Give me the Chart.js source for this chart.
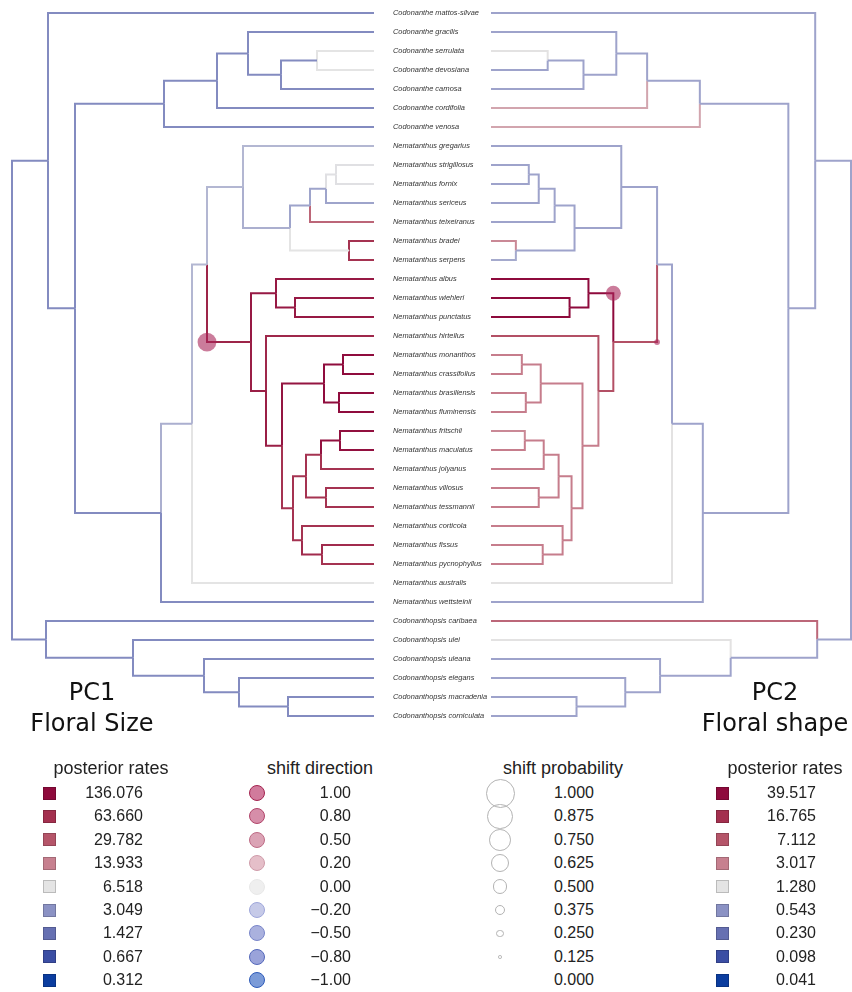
<!DOCTYPE html>
<html>
<head>
<meta charset="utf-8">
<script src="https://cdn.jsdelivr.net/npm/chart.js@4.4.1/dist/chart.umd.min.js"></script>
<style>
  body { margin: 0; background: #fff; }
  #wrap { position: relative; width: 852px; height: 992px; overflow: hidden;
          font-family: 'Liberation Sans', Arial, sans-serif; color: #222; }
  canvas { position: absolute; top: 0; }
  #treeL { left: 0; }
  #treeR { left: 480px; }
  .pc { position: absolute; font-family: 'DejaVu Sans', sans-serif; font-size: 24px;
        line-height: 31px; text-align: center; color: #111; }
  .lg-title { position: absolute; font-size: 18px; line-height: 20px; white-space: nowrap;
              transform: translateX(-50%); }
  .lg-val { position: absolute; width: 90px; font-size: 16px; line-height: 18px;
            text-align: right; white-space: nowrap; }
  .sw { position: absolute; box-sizing: border-box; }
</style>
</head>
<body>
<div id="wrap">
  <canvas id="treeL" width="490" height="730"></canvas>
  <canvas id="treeR" width="372" height="730"></canvas>
  <div class="pc" style="left:0;top:677px;width:184px">PC1<br>Floral Size</div>
  <div class="pc" style="left:675px;top:677px;width:200px">PC2<br>Floral shape</div>
  <div id="legend"></div>
</div>
<script>
// tips, top to bottom
const taxa = [
  'Codonanthe mattos-silvae', 'Codonanthe gracilis', 'Codonanthe serrulata', 'Codonanthe devosiana',
  'Codonanthe carnosa', 'Codonanthe cordifolia', 'Codonanthe venosa',
  'Nematanthus gregarius', 'Nematanthus strigillosus', 'Nematanthus fornix', 'Nematanthus sericeus',
  'Nematanthus teixeiranus', 'Nematanthus bradei', 'Nematanthus serpens', 'Nematanthus albus',
  'Nematanthus wiehleri', 'Nematanthus punctatus', 'Nematanthus hirtellus', 'Nematanthus monanthos',
  'Nematanthus crassifolius', 'Nematanthus brasiliensis', 'Nematanthus fluminensis', 'Nematanthus fritschii',
  'Nematanthus maculatus', 'Nematanthus jolyanus', 'Nematanthus villosus', 'Nematanthus tessmannii',
  'Nematanthus corticola', 'Nematanthus fissus', 'Nematanthus pycnophyllus', 'Nematanthus australis',
  'Nematanthus wettsteinii', 'Codonanthopsis caribaea', 'Codonanthopsis ulei', 'Codonanthopsis uleana',
  'Codonanthopsis elegans', 'Codonanthopsis macradenia', 'Codonanthopsis corniculata'
];

// internal nodes: children (number = tip index, string = node) and node age
const nodeNames = ['root', 'n1', 'n2', 'n3', 'n4', 'n5', 'n6', 'n7', 'n8', 'n9', 'n10', 'n11', 'n12',
  'n13', 'n14', 'n15', 'n16', 'n17', 'n18', 'nW', 'n19', 'nA', 'nB', 'nC', 'nD', 'nE', 'nF', 'nG',
  'nG2', 'nH', 'nI', 'nJ', 'nK', 'nL', 'nM', 'nN', 'nO'];
const nodeKids = [
  ['n1', 'nK'], [0, 'n2'], ['n3', 'n8'], ['n4', 6], ['n5', 5], [1, 'n6'], ['n7', 4], [2, 3],
  ['n9', 31], ['n10', 30], ['n11', 'n17'], [7, 'n12'], ['n13', 'n16'], ['n14', 11], ['n15', 10],
  [8, 9], [12, 13], ['n18', 'n19'], [14, 'nW'], [15, 16], [17, 'nA'], ['nB', 'nE'], ['nC', 'nD'],
  [18, 19], [20, 21], ['nF', 'nI'], ['nG', 'nH'], ['nG2', 24], [22, 23], [25, 26], [27, 'nJ'],
  [28, 29], [32, 'nL'], [33, 'nM'], [34, 'nN'], [35, 'nO'], [36, 37]
];
const nodeAge = [36.2, 32.6, 29.9, 21.0, 15.7, 12.6, 9.3, 5.7, 21.3, 18.2, 16.7, 13.1, 8.4,
  6.4, 4.8, 3.8, 2.5, 12.3, 9.8, 7.9, 10.8, 9.2, 5.0, 3.1, 3.5, 8.1, 6.8, 5.3,
  3.4, 4.8, 7.2, 5.2, 32.8, 24.1, 17.0, 13.5, 8.6];

// posterior rates of the branch leading to each tip / node
const tipRatePC1 = [2.6, 2.6, 6.5, 6.5, 2.6, 2.6, 2.6, 4.3, 6.3, 6.3, 3.6, 22, 60, 60,
  100, 100, 100, 75, 130, 130, 130, 130, 120, 120, 60, 60, 60, 60, 70, 60,
  6.5, 2.6, 2.6, 2.6, 2.6, 2.6, 2.6, 2.6];
const nodeRatePC1 = [null, 2.6, 2.6, 2.6, 2.6, 2.6, 2.6, 2.6, 2.6, 4.0, 4.3, 4.3, 4.0,
  3.6, 3.6, 6.3, 6.5, 80, 100, 100, 90, 90, 110, 130, 130, 60, 60, 60,
  120, 60, 60, 70, 2.6, 2.6, 2.6, 2.6, 2.6];
const tipRatePC2 = [0.65, 0.65, 1.3, 0.65, 0.65, 2.2, 2.2, 0.65, 0.65, 0.65, 0.65, 0.65, 2.8, 0.7,
  39.5, 39.5, 39.5, 8, 3.2, 3.2, 3.2, 3.2, 2.8, 3.2, 3.2, 3.2, 3.2, 3.2, 3.2, 3.2,
  1.3, 0.65, 5, 1.3, 0.65, 0.65, 0.65, 0.65];
const nodeRatePC2 = [null, 0.65, 0.65, 0.65, 0.65, 0.65, 0.65, 0.65, 0.65, 0.65, 0.65, 0.65, 0.65,
  0.65, 0.65, 0.65, 0.65, 8, 39.5, 39.5, 8, 3.2, 3.2, 3.2, 3.2, 3.2, 3.2, 3.2,
  3.2, 3.2, 3.2, 3.2, 0.65, 0.65, 0.65, 0.65, 0.65];

// legend scales
const rateStopsPC1 = [136.076, 63.660, 29.782, 13.933, 6.518, 3.049, 1.427, 0.667, 0.312];
const rateStopsPC2 = [39.517, 16.765, 7.112, 3.017, 1.280, 0.543, 0.230, 0.098, 0.041];
const rateColors = ['#8e0a3c', '#a4304f', '#b55569', '#c7808f', '#e4e4e4', '#8b92c4', '#6670b2', '#3b4ea4', '#0b3d9f'];
const dirLabels = ['1.00', '0.80', '0.50', '0.20', '0.00', '\u22120.20', '\u22120.50', '\u22120.80', '\u22121.00'];
const dirFill = ['#d17b9c', '#d68ea9', '#dba3b5', '#e5bfc9', '#efefef', '#c6cae8', '#aab1de', '#9aa3da', '#7b9bd8'];
const dirStroke = ['#a3234f', '#b04469', '#bd6a84', '#cf9ba9', '#e8e8e8', '#9ea6da', '#7985c9', '#5468ba', '#2d5ab8'];
const probValues = [1.000, 0.875, 0.750, 0.625, 0.500, 0.375, 0.250, 0.125, 0.000];

// rate shifts on branches (branch named by the node it leads to)
const shiftNodePC1 = ['n17'];
const shiftProbPC1 = [0.65];
const shiftDirPC1 = [1.0];
const shiftNodePC2 = ['n18', 'n17'];
const shiftProbPC2 = [0.52, 0.2];
const shiftDirPC2 = [1.0, 1.0];

// ---- tree geometry ----
const key = ref => typeof ref === 'number' ? 't' + ref : ref;
const nodeIndex = {};
nodeNames.forEach((n, i) => nodeIndex[n] = i);
const parentOf = {};
nodeKids.forEach((kids, i) => kids.forEach(k => parentOf[key(k)] = nodeNames[i]));
const yOf = {}, ageOf = {};
taxa.forEach((_, i) => { yOf['t' + i] = i; ageOf['t' + i] = 0; });
nodeNames.forEach((n, i) => ageOf[n] = nodeAge[i]);
function nodeY(n) {
  if (yOf[n] !== undefined) return yOf[n];
  const kids = nodeKids[nodeIndex[n]].map(key);
  yOf[n] = kids.reduce((s, k) => s + nodeY(k), 0) / kids.length;
  return yOf[n];
}
nodeY('root');

function hexRgb(h) {
  const v = parseInt(h.slice(1), 16);
  return [(v >> 16) & 255, (v >> 8) & 255, v & 255];
}
function rateColor(rate, stops) {
  const cols = rateColors.map(hexRgb);
  let c = cols[cols.length - 1];
  if (rate >= stops[0]) c = cols[0];
  for (let i = 0; i < stops.length - 1; i++) {
    if (rate <= stops[i] && rate >= stops[i + 1]) {
      const t = Math.log(stops[i] / rate) / Math.log(stops[i] / stops[i + 1]);
      c = cols[i].map((v, j) => Math.round(v + (cols[i + 1][j] - v) * t));
      break;
    }
  }
  return `rgb(${c[0]},${c[1]},${c[2]})`;
}

function treeDatasets(tipRate, nodeRate, stops, shiftNode, shiftProb, shiftDir) {
  const sets = [];
  Object.keys(parentOf).forEach(k => {
    const p = parentOf[k];
    const rate = k[0] === 't' ? tipRate[+k.slice(1)] : nodeRate[nodeIndex[k]];
    sets.push({
      data: [
        { x: ageOf[p], y: yOf[p] },
        { x: ageOf[p], y: yOf[k] },
        { x: ageOf[k], y: yOf[k] }
      ],
      showLine: true,
      borderColor: rateColor(rate, stops),
      borderWidth: 2,
      borderJoinStyle: 'miter',
      pointRadius: 0,
      tension: 0,
      clip: false
    });
  });
  sets.push({
    order: -1,
    data: shiftNode.map(n => ({ x: ageOf[parentOf[n]], y: yOf[n] })),
    pointRadius: shiftProb.map(p => p * 14.5),
    backgroundColor: shiftDir.map(d => d > 0 ? 'rgba(168,36,88,0.6)' : 'rgba(40,80,180,0.6)'),
    borderWidth: 0,
    clip: false
  });
  return sets;
}

function makeTree(id, datasets, reverse, showLabels, padding) {
  return new Chart(document.getElementById(id), {
    type: 'scatter',
    data: { datasets },
    options: {
      responsive: false,
      animation: false,
      events: [],
      layout: { padding, autoPadding: false },
      plugins: { legend: { display: false }, tooltip: { enabled: false } },
      scales: {
        x: { type: 'linear', display: false, min: 0, max: nodeAge[0], reverse },
        y: {
          type: 'linear', display: showLabels, position: 'right',
          min: 0, max: taxa.length - 1, reverse: true,
          grid: { display: false, drawTicks: true, tickLength: 19 },
          border: { display: false },
          afterBuildTicks: s => { s.ticks = taxa.map((_, i) => ({ value: i })); },
          afterFit: s => { s.width = showLabels ? 116 : 0; },
          ticks: {
            autoSkip: false, padding: 0, color: '#333',
            font: { family: 'Liberation Sans', style: 'italic', size: 7.4 },
            callback: v => taxa[v]
          }
        }
      }
    }
  });
}

makeTree('treeL', treeDatasets(tipRatePC1, nodeRatePC1, rateStopsPC1, shiftNodePC1, shiftProbPC1, shiftDirPC1),
  true, true, { left: 12, right: 0, top: 13, bottom: 14 });
makeTree('treeR', treeDatasets(tipRatePC2, nodeRatePC2, rateStopsPC2, shiftNodePC2, shiftProbPC2, shiftDirPC2),
  false, false, { left: 11, right: 1, top: 13, bottom: 14 });

// ---- legend ----
const legend = document.getElementById('legend');
const rowY = i => 793 + i * 23.4;
function el(cls, css, text) {
  const d = document.createElement('div');
  d.className = cls;
  d.style.cssText = css;
  if (text !== undefined) d.textContent = text;
  legend.appendChild(d);
}
function title(text, cx) { el('lg-title', `left:${cx}px;top:758px`, text); }
function value(text, right, i) { el('lg-val', `left:${right - 90}px;top:${rowY(i) - 9}px`, text); }

title('posterior rates', 111);
rateStopsPC1.forEach((v, i) => {
  el('sw', `left:43px;top:${rowY(i) - 6.5}px;width:13px;height:13px;background:${rateColors[i]};border:1px solid rgba(0,0,0,0.18)`);
  value(v.toFixed(3), 143, i);
});
title('shift direction', 320);
dirLabels.forEach((t, i) => {
  el('sw', `left:249px;top:${rowY(i) - 8}px;width:16px;height:16px;border-radius:50%;background:${dirFill[i]};border:1.5px solid ${dirStroke[i]}`);
  value(t, 351, i);
});
title('shift probability', 563);
probValues.forEach((p, i) => {
  const r = p * 14.5;
  if (r > 0) el('sw', `left:${500 - r}px;top:${rowY(i) - r}px;width:${2 * r}px;height:${2 * r}px;border-radius:50%;border:1.5px solid #b3b3b3`);
  value(p.toFixed(3), 594, i);
});
title('posterior rates', 785);
rateStopsPC2.forEach((v, i) => {
  el('sw', `left:715.5px;top:${rowY(i) - 6.5}px;width:13px;height:13px;background:${rateColors[i]};border:1px solid rgba(0,0,0,0.18)`);
  value(v.toFixed(3), 816, i);
});
</script>
</body>
</html>
